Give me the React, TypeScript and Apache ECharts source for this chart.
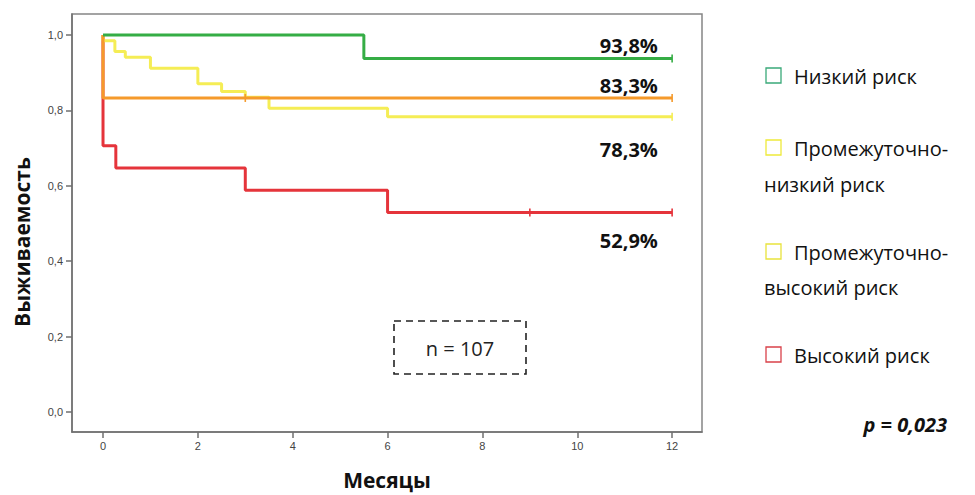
import React, { useEffect, useRef } from "react";
import * as echarts from "echarts";

// Kaplan–Meier curves: [month, survival]
const lowRisk = [[0, 1], [5.5, 0.938], [12, 0.938]];
const interLowRisk = [
  [0, 1], [0, 0.985], [0.25, 0.956], [0.47, 0.941], [1.0, 0.912], [2.0, 0.871],
  [2.5, 0.85], [3.0, 0.835], [3.5, 0.806], [6.0, 0.783], [12, 0.783],
];
const interHighRisk = [[0, 1], [0, 0.833], [12, 0.833]];
const highRisk = [[0, 1], [0, 0.706], [0.27, 0.647], [3.0, 0.588], [6.0, 0.529], [12, 0.529]];

// censored observations
const lowCensor = [[12, 0.938]];
const interLowCensor = [[12, 0.783]];
const interHighCensor = [[3.0, 0.833], [12, 0.833]];
const highCensor = [[9.0, 0.529], [12, 0.529]];

const xTicks = [0, 2, 4, 6, 8, 10, 12];
const yTicks = [0, 0.2, 0.4, 0.6, 0.8, 1.0];

const pctLabels = ["93,8%", "83,3%", "78,3%", "52,9%"];
const legendLines = [
  ["Низкий риск"],
  ["Промежуточно-", "низкий риск"],
  ["Промежуточно-", "высокий риск"],
  ["Высокий риск"],
];
const pText = "p = 0,023";
const nText = "n = 107";

const cGreen = "#35ad45";
const cYellow = "#f5ed55";
const cOrange = "#f59a2b";
const cRed = "#e5343b";

export default function App() {
  const ref = useRef<HTMLDivElement>(null);
  useEffect(() => {
    if (!ref.current) return;
    const chart = echarts.init(ref.current, null, { renderer: "svg" });
    const font = "'Open Sans', 'Noto Sans', sans-serif";

    const line = (name: string, data: number[][], color: string, z: number) => ({
      name,
      type: "line",
      step: "end",
      data,
      showSymbol: false,
      symbol: "none",
      z,
      lineStyle: { color, width: 3 },
      itemStyle: { color },
    });
    const cens = (data: number[][], color: string, z: number) => ({
      type: "scatter",
      data,
      symbol: "rect",
      symbolSize: [1.6, 8],
      z,
      itemStyle: { color, opacity: 1 },
      silent: true,
    });

    const labelPos = [
      [11.7, 0.971],
      [11.7, 0.867],
      [11.7, 0.695],
      [11.7, 0.456],
    ];

    const legendSquareColors = ["#3aa979", "#eeea3a", "#e9e33c", "#d9414a"];
    const legendY = [[76], [148, 184], [252, 287], [355]];
    const graphic: any[] = [];
    legendLines.forEach((lines, i) => {
      graphic.push({
        type: "rect",
        shape: { x: 766, y: legendY[i][0] - 8, width: 15, height: 15 },
        style: { fill: "#fff", stroke: legendSquareColors[i], lineWidth: 1.3 },
      });
      lines.forEach((t, j) => {
        graphic.push({
          type: "text",
          x: j === 0 ? 794 : 764,
          y: legendY[i][j],
          style: {
            text: t,
            font: `20px ${font}`,
            fill: "#111",
            verticalAlign: "middle",
          },
        });
      });
    });
    graphic.push({
      type: "text",
      x: 947,
      y: 424,
      style: {
        text: pText,
        font: `italic bold 20px ${font}`,
        fill: "#111",
        align: "right",
        verticalAlign: "middle",
      },
    });
    graphic.push({
      type: "rect",
      shape: { x: 394, y: 321, width: 132, height: 53 },
      style: { fill: "none", stroke: "#222", lineWidth: 1.6, lineDash: [7, 5] },
    });
    graphic.push({
      type: "text",
      x: 460,
      y: 348,
      style: {
        text: nText,
        font: `20px ${font}`,
        fill: "#222",
        align: "center",
        verticalAlign: "middle",
      },
    });
    graphic.push({
      type: "text",
      x: 22,
      y: 242,
      rotation: Math.PI / 2,
      style: {
        text: "Выживаемость",
        font: `bold 21px ${font}`,
        fill: "#111",
        align: "center",
        verticalAlign: "middle",
      },
    });

    chart.setOption({
      animation: false,
      backgroundColor: "#fff",
      grid: {
        left: 72,
        top: 14,
        width: 630,
        height: 418,
        outerBoundsMode: "none",
        containLabel: false,
        show: true,
        borderColor: "#858585",
        borderWidth: 1.5,
        backgroundColor: "#fff",
      },
      xAxis: {
        type: "value",
        min: -0.654,
        max: 12.63,
        splitLine: { show: false },
        axisLine: { show: true, onZero: false, lineStyle: { color: "#6f6f6f", width: 1.5 } },
        axisTick: { show: true, customValues: xTicks, length: 6, lineStyle: { color: "#6f6f6f", width: 1.5 } },
        axisLabel: {
          customValues: xTicks,
          formatter: (v: number) => String(v),
          color: "#444",
          fontSize: 11,
          fontFamily: "'Liberation Sans', Arial, sans-serif",
          margin: 8,
        },
        name: "Месяцы",
        nameLocation: "middle",
        nameGap: 37,
        nameTextStyle: { fontSize: 21, fontWeight: "bold", color: "#111", fontFamily: font },
      },
      yAxis: {
        type: "value",
        min: -0.053,
        max: 1.0557,
        splitLine: { show: false },
        axisLine: { show: true, onZero: false, lineStyle: { color: "#6f6f6f", width: 1.5 } },
        axisTick: { show: true, customValues: yTicks, length: 6, lineStyle: { color: "#6f6f6f", width: 1.5 } },
        axisLabel: {
          customValues: yTicks,
          formatter: (v: number) => v.toFixed(1).replace(".", ","),
          color: "#444",
          fontSize: 11,
          fontFamily: "'Liberation Sans', Arial, sans-serif",
          margin: 9,
        },
      },
      series: [
        line("Высокий риск", highRisk, cRed, 2),
        line("Промежуточно-низкий риск", interLowRisk, cYellow, 3),
        line("Промежуточно-высокий риск", interHighRisk, cOrange, 4),
        line("Низкий риск", lowRisk, cGreen, 5),
        cens(highCensor, cRed, 6),
        cens(interLowCensor, cYellow, 6),
        cens(interHighCensor, cOrange, 6),
        cens(lowCensor, cGreen, 6),
        {
          type: "scatter",
          data: labelPos.map((p, i) => ({ value: p, name: pctLabels[i] })),
          symbolSize: 0,
          silent: true,
          z: 7,
          itemStyle: { opacity: 1 },
          label: {
            show: true,
            position: "left",
            distance: 0,
            formatter: (p: any) => p.name,
            fontSize: 20,
            fontWeight: "bold",
            color: "#111",
            opacity: 1,
            fontFamily: font,
          },
        },
      ],
      graphic,
    });
    return () => chart.dispose();
  }, []);
  return <div ref={ref} style={{ width: 975, height: 495, position: "absolute", left: 0, top: 0 }} />;
}
